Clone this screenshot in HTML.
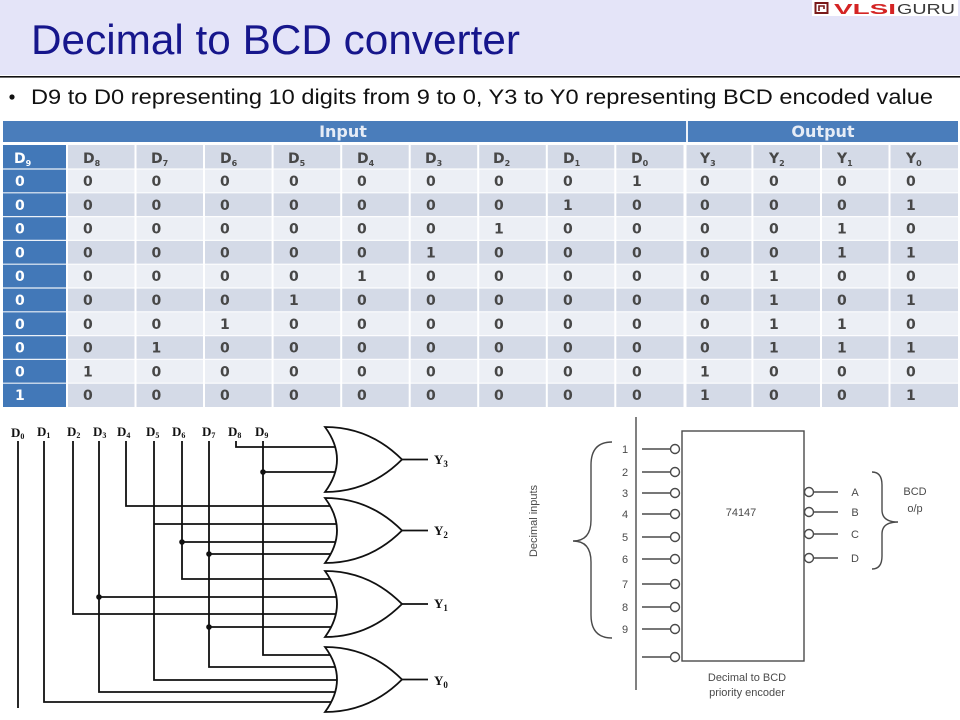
<!DOCTYPE html>
<html><head><meta charset="utf-8"><style>
html,body{margin:0;padding:0;background:#fff;}
body{width:960px;height:720px;overflow:hidden;position:relative;}
svg{position:absolute;left:0;top:0;}
</style></head><body>
<svg width="960" height="720" viewBox="0 0 960 720" xmlns="http://www.w3.org/2000/svg">
<!-- header band -->
<rect x="0" y="0" width="960" height="75" fill="#e4e4f8"/>
<rect x="0" y="76" width="960" height="1.6" fill="#111"/>
<text x="31" y="54" font-family="Liberation Sans, sans-serif" font-size="42" fill="#16168c" textLength="489" lengthAdjust="spacingAndGlyphs">Decimal to BCD converter</text>
<!-- logo -->
<rect x="812" y="0" width="146" height="16" fill="#fff"/>
<rect x="815.5" y="3" width="12" height="10" fill="none" stroke="#7a1a1a" stroke-width="2"/>
<path d="M819 11 L819 6 L824 6 L824 9" fill="none" stroke="#7a1a1a" stroke-width="1.6"/>
<text x="834" y="14" font-family="Liberation Sans, sans-serif" font-weight="bold" font-size="15" fill="#d42424" textLength="62" lengthAdjust="spacingAndGlyphs">VLSI</text>
<text x="897" y="14" font-family="Liberation Sans, sans-serif" font-size="15" fill="#3a3a3a" textLength="58" lengthAdjust="spacingAndGlyphs">GURU</text>
<!-- bullet -->
<circle cx="12" cy="97" r="2.6" fill="#111"/>
<text x="31" y="104" font-family="Liberation Sans, sans-serif" font-size="21" fill="#111" textLength="902" lengthAdjust="spacingAndGlyphs">D9 to D0 representing 10 digits from 9 to 0, Y3 to Y0 representing BCD encoded value</text>

<!-- TABLE -->
<g>
<rect x="3" y="121" width="955" height="21" fill="#4a7dbb"/>
<rect x="686" y="121" width="2" height="21" fill="#eef2f8"/>
<text x="343" y="137" text-anchor="middle" font-family="DejaVu Sans, sans-serif" font-weight="bold" font-size="16" fill="#e6ecf6">Input</text>
<text x="823" y="137" text-anchor="middle" font-family="DejaVu Sans, sans-serif" font-weight="bold" font-size="16" fill="#e6ecf6">Output</text>
<!-- rows backgrounds -->
<rect x="67" y="145" width="891" height="24" fill="#d4dae7"/>
<rect x="67" y="169" width="891" height="23.8" fill="#eceff5"/>
<rect x="67" y="192.8" width="891" height="23.8" fill="#d4dae7"/>
<rect x="67" y="216.6" width="891" height="23.8" fill="#eceff5"/>
<rect x="67" y="240.4" width="891" height="23.8" fill="#d4dae7"/>
<rect x="67" y="264.2" width="891" height="23.8" fill="#eceff5"/>
<rect x="67" y="288" width="891" height="23.8" fill="#d4dae7"/>
<rect x="67" y="311.8" width="891" height="23.8" fill="#eceff5"/>
<rect x="67" y="335.6" width="891" height="23.8" fill="#d4dae7"/>
<rect x="67" y="359.4" width="891" height="23.8" fill="#eceff5"/>
<rect x="67" y="383.2" width="891" height="23.8" fill="#d4dae7"/>
<rect x="3" y="145" width="64" height="262" fill="#4278b8"/>
<!-- row separators -->
<g stroke="#ffffff" stroke-width="1.2" opacity="0.9">
<line x1="3" y1="169" x2="958" y2="169"/>
<line x1="3" y1="192.8" x2="958" y2="192.8"/>
<line x1="3" y1="216.6" x2="958" y2="216.6"/>
<line x1="3" y1="240.4" x2="958" y2="240.4"/>
<line x1="3" y1="264.2" x2="958" y2="264.2"/>
<line x1="3" y1="288" x2="958" y2="288"/>
<line x1="3" y1="311.8" x2="958" y2="311.8"/>
<line x1="3" y1="335.6" x2="958" y2="335.6"/>
<line x1="3" y1="359.4" x2="958" y2="359.4"/>
<line x1="3" y1="383.2" x2="958" y2="383.2"/>
</g>
<!-- column separators -->
<g stroke="#ffffff" stroke-width="2">
<line x1="67" y1="145" x2="67" y2="407"/>
<line x1="135.5" y1="145" x2="135.5" y2="407"/>
<line x1="204" y1="145" x2="204" y2="407"/>
<line x1="272.6" y1="145" x2="272.6" y2="407"/>
<line x1="341.2" y1="145" x2="341.2" y2="407"/>
<line x1="409.7" y1="145" x2="409.7" y2="407"/>
<line x1="478.2" y1="145" x2="478.2" y2="407"/>
<line x1="546.8" y1="145" x2="546.8" y2="407"/>
<line x1="615.3" y1="145" x2="615.3" y2="407"/>
<line x1="685" y1="145" x2="685" y2="407" stroke-width="3"/>
<line x1="752.4" y1="145" x2="752.4" y2="407"/>
<line x1="821" y1="145" x2="821" y2="407"/>
<line x1="889.5" y1="145" x2="889.5" y2="407"/>
</g>
<!-- column headers -->
<g font-family="DejaVu Sans, sans-serif" font-weight="bold" font-size="14" fill="#474747">
<text x="14" y="163" fill="#ffffff">D<tspan font-size="8" dy="3">9</tspan></text>
<text x="83" y="163">D<tspan font-size="8" dy="3">8</tspan></text>
<text x="151" y="163">D<tspan font-size="8" dy="3">7</tspan></text>
<text x="220" y="163">D<tspan font-size="8" dy="3">6</tspan></text>
<text x="288" y="163">D<tspan font-size="8" dy="3">5</tspan></text>
<text x="357" y="163">D<tspan font-size="8" dy="3">4</tspan></text>
<text x="425" y="163">D<tspan font-size="8" dy="3">3</tspan></text>
<text x="493" y="163">D<tspan font-size="8" dy="3">2</tspan></text>
<text x="563" y="163">D<tspan font-size="8" dy="3">1</tspan></text>
<text x="631" y="163">D<tspan font-size="8" dy="3">0</tspan></text>
<text x="700" y="163">Y<tspan font-size="8" dy="3">3</tspan></text>
<text x="769" y="163">Y<tspan font-size="8" dy="3">2</tspan></text>
<text x="837" y="163">Y<tspan font-size="8" dy="3">1</tspan></text>
<text x="906" y="163">Y<tspan font-size="8" dy="3">0</tspan></text>
</g>
<!-- data -->
<g font-family="DejaVu Sans, sans-serif" font-weight="bold" font-size="14">
<g fill="#ffffff">
<text x="15" y="186">0</text>
<text x="15" y="209.8">0</text>
<text x="15" y="233.6">0</text>
<text x="15" y="257.4">0</text>
<text x="15" y="281.2">0</text>
<text x="15" y="305">0</text>
<text x="15" y="328.8">0</text>
<text x="15" y="352.6">0</text>
<text x="15" y="376.4">0</text>
<text x="15" y="400.2">1</text>
</g>
<g fill="#474747">
<text x="83 151.5 220 289 357 426 494 563 632 700 769 837 906" y="186">0000000010000</text>
<text x="83 151.5 220 289 357 426 494 563 632 700 769 837 906" y="209.8">0000000100001</text>
<text x="83 151.5 220 289 357 426 494 563 632 700 769 837 906" y="233.6">0000001000010</text>
<text x="83 151.5 220 289 357 426 494 563 632 700 769 837 906" y="257.4">0000010000011</text>
<text x="83 151.5 220 289 357 426 494 563 632 700 769 837 906" y="281.2">0000100000100</text>
<text x="83 151.5 220 289 357 426 494 563 632 700 769 837 906" y="305">0001000000101</text>
<text x="83 151.5 220 289 357 426 494 563 632 700 769 837 906" y="328.8">0010000000110</text>
<text x="83 151.5 220 289 357 426 494 563 632 700 769 837 906" y="352.6">0100000000111</text>
<text x="83 151.5 220 289 357 426 494 563 632 700 769 837 906" y="376.4">1000000001000</text>
<text x="83 151.5 220 289 357 426 494 563 632 700 769 837 906" y="400.2">0000000001001</text>
</g>
</g>
</g>

<!-- LEFT CIRCUIT -->
<g stroke="#111" stroke-width="1.8" fill="none">
<line x1="18" y1="441" x2="18" y2="708"/>
<polyline points="44,441 44,702 340,702"/>
<polyline points="73,441 73,614 340,614"/>
<polyline points="99,441 99,692 340,692"/>
<line x1="99" y1="597" x2="340" y2="597"/>
<polyline points="126,441 126,506 340,506"/>
<polyline points="154,441 154,680 340,680"/>
<line x1="154" y1="524" x2="340" y2="524"/>
<polyline points="182,441 182,579 340,579"/>
<line x1="182" y1="542" x2="340" y2="542"/>
<polyline points="209,441 209,667 340,667"/>
<line x1="209" y1="554" x2="340" y2="554"/>
<line x1="209" y1="627" x2="340" y2="627"/>
<polyline points="236,441 236,447 340,447"/>
<polyline points="263,441 263,655 340,655"/>
<line x1="263" y1="472" x2="340" y2="472"/>
</g>
<g fill="#111">
<circle cx="263" cy="472" r="2.8"/>
<circle cx="182" cy="542" r="2.8"/>
<circle cx="209" cy="554" r="2.8"/>
<circle cx="99" cy="597" r="2.8"/>
<circle cx="209" cy="627" r="2.8"/>
</g>
<!-- OR gates -->
<g stroke="#111" stroke-width="1.8" fill="#fff">
<path d="M325,427 C365,427 390,447.5 402,459.5 C390,471.5 365,492 325,492 Q349,459.5 325,427 Z"/>
<path d="M325,498 C365,498 390,518.5 402,530.5 C390,542.5 365,563 325,563 Q349,530.5 325,498 Z"/>
<path d="M325,571 C365,571 390,592 402,604 C390,616 365,637 325,637 Q349,604 325,571 Z"/>
<path d="M325,647 C365,647 390,667.5 402,679.5 C390,691.5 365,712 325,712 Q349,679.5 325,647 Z"/>
</g>
<g stroke="#111" stroke-width="1.8">
<line x1="402" y1="459.5" x2="428" y2="459.5"/>
<line x1="402" y1="530.5" x2="428" y2="530.5"/>
<line x1="402" y1="604" x2="428" y2="604"/>
<line x1="402" y1="679.5" x2="428" y2="679.5"/>
</g>
<g font-family="Liberation Serif, serif" font-weight="bold" font-size="13" fill="#111">
<text x="434" y="464">Y<tspan font-size="9" dy="3">3</tspan></text>
<text x="434" y="535">Y<tspan font-size="9" dy="3">2</tspan></text>
<text x="434" y="608">Y<tspan font-size="9" dy="3">1</tspan></text>
<text x="434" y="685">Y<tspan font-size="9" dy="3">0</tspan></text>
<text x="11" y="437">D<tspan font-size="8" dy="2">0</tspan></text>
<text x="37" y="436">D<tspan font-size="8" dy="2">1</tspan></text>
<text x="67" y="436">D<tspan font-size="8" dy="2">2</tspan></text>
<text x="93" y="436">D<tspan font-size="8" dy="2">3</tspan></text>
<text x="117" y="436">D<tspan font-size="8" dy="2">4</tspan></text>
<text x="146" y="436">D<tspan font-size="8" dy="2">5</tspan></text>
<text x="172" y="436">D<tspan font-size="8" dy="2">6</tspan></text>
<text x="202" y="436">D<tspan font-size="8" dy="2">7</tspan></text>
<text x="228" y="436">D<tspan font-size="8" dy="2">8</tspan></text>
<text x="255" y="436">D<tspan font-size="8" dy="2">9</tspan></text>
</g>

<!-- RIGHT DIAGRAM -->
<g stroke="#4a4a4a" stroke-width="1.4" fill="none">
<line x1="636" y1="417" x2="636" y2="690"/>
<rect x="682" y="431" width="122" height="230"/>
<line x1="642" y1="449" x2="670.5" y2="449"/>
<line x1="642" y1="472" x2="670.5" y2="472"/>
<line x1="642" y1="493" x2="670.5" y2="493"/>
<line x1="642" y1="514" x2="670.5" y2="514"/>
<line x1="642" y1="537" x2="670.5" y2="537"/>
<line x1="642" y1="559" x2="670.5" y2="559"/>
<line x1="642" y1="584" x2="670.5" y2="584"/>
<line x1="642" y1="607" x2="670.5" y2="607"/>
<line x1="642" y1="629" x2="670.5" y2="629"/>
<line x1="642" y1="657" x2="670.5" y2="657"/>
<circle cx="675" cy="449" r="4.5"/>
<circle cx="675" cy="472" r="4.5"/>
<circle cx="675" cy="493" r="4.5"/>
<circle cx="675" cy="514" r="4.5"/>
<circle cx="675" cy="537" r="4.5"/>
<circle cx="675" cy="559" r="4.5"/>
<circle cx="675" cy="584" r="4.5"/>
<circle cx="675" cy="607" r="4.5"/>
<circle cx="675" cy="629" r="4.5"/>
<circle cx="675" cy="657" r="4.5"/>
<circle cx="809" cy="492" r="4.5"/>
<circle cx="809" cy="512" r="4.5"/>
<circle cx="809" cy="534" r="4.5"/>
<circle cx="809" cy="558" r="4.5"/>
<line x1="813.5" y1="492" x2="838" y2="492"/>
<line x1="813.5" y1="512" x2="838" y2="512"/>
<line x1="813.5" y1="534" x2="838" y2="534"/>
<line x1="813.5" y1="558" x2="838" y2="558"/>
<path d="M612,442 Q591,442 591,465 L591,520 Q591,541 573,541 Q591,541 591,562 L591,615 Q591,638 612,638"/>
<path d="M872,472 Q882,472 882,485 L882,510 Q882,522 898,522 Q882,522 882,534 L882,556 Q882,569 872,569"/>
</g>
<g font-family="Liberation Sans, sans-serif" font-size="11" fill="#4a4a4a" text-anchor="middle">
<text x="625" y="453">1</text>
<text x="625" y="476">2</text>
<text x="625" y="497">3</text>
<text x="625" y="518">4</text>
<text x="625" y="541">5</text>
<text x="625" y="563">6</text>
<text x="625" y="588">7</text>
<text x="625" y="611">8</text>
<text x="625" y="633">9</text>
<text x="855" y="496">A</text>
<text x="855" y="516">B</text>
<text x="855" y="538">C</text>
<text x="855" y="562">D</text>
<text x="915" y="495">BCD</text>
<text x="915" y="512">o/p</text>
<text x="741" y="516">74147</text>
<text x="747" y="681">Decimal to BCD</text>
<text x="747" y="696">priority encoder</text>
<text transform="translate(537,521) rotate(-90)" textLength="72" lengthAdjust="spacingAndGlyphs">Decimal inputs</text>
</g>
</svg>
</body></html>
